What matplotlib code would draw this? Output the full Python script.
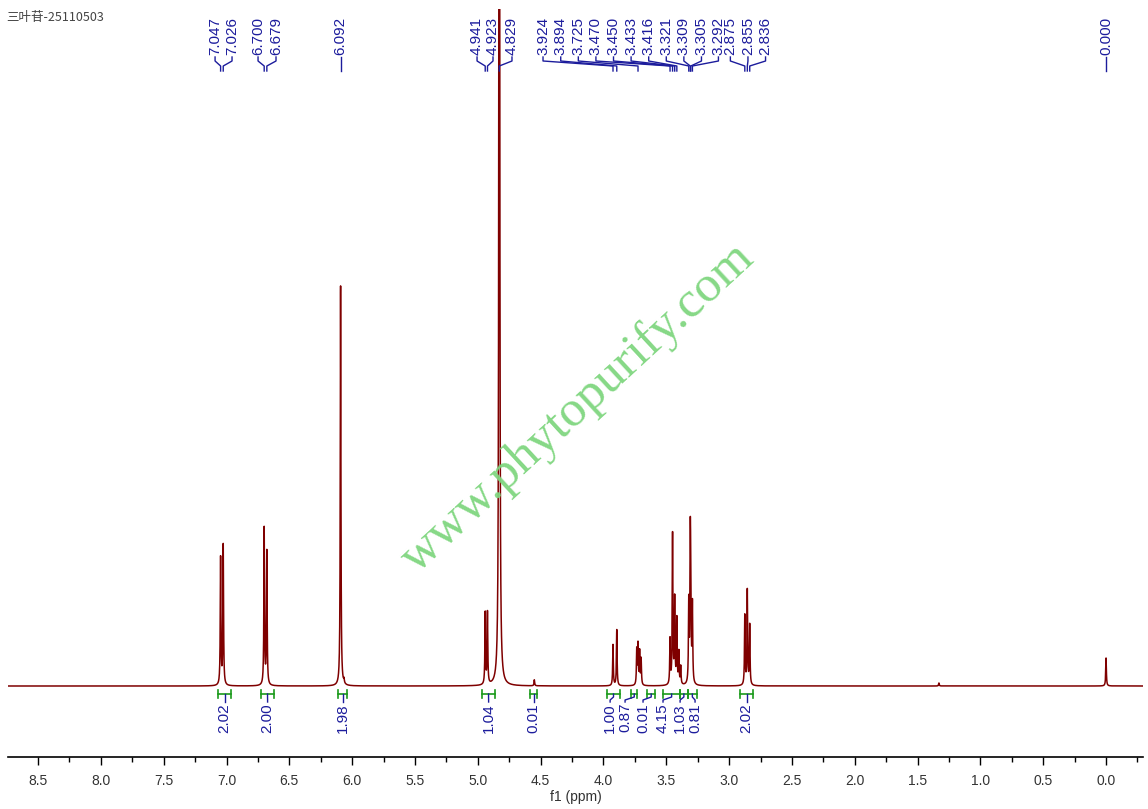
import numpy as np
import matplotlib
matplotlib.use('Agg')
import matplotlib.pyplot as plt
from matplotlib.ticker import MultipleLocator, FormatStrFormatter

# sample name shown top-left
title = '三叶苷-25110503'

# peaks (ppm, height in arbitrary units)
peak_ppm = [7.047, 7.026, 6.700, 6.679, 6.092, 6.065, 4.941, 4.923, 4.829, 4.550,
            3.924, 3.894, 3.735, 3.725, 3.712, 3.700,
            3.470, 3.450, 3.433, 3.416, 3.400, 3.385,
            3.321, 3.309, 3.305, 3.292, 2.875, 2.855, 2.836, 1.330, 0.000]
peak_height = [128, 140, 157, 134, 400, 4, 72, 72, 1800, 6,
               41, 56, 35, 40, 33, 26,
               45, 150, 85, 65, 32, 18,
               80, 128, 90, 78, 70, 95, 60, 3, 28]
peak_width = [0.003] * len(peak_ppm)
peak_width[8] = 0.003  # water line

# labelled shifts (top of chart)
label_ppm = [7.047, 7.026, 6.700, 6.679, 6.092, 4.941, 4.923, 4.829,
             3.924, 3.894, 3.725, 3.470, 3.450, 3.433, 3.416, 3.321,
             3.309, 3.305, 3.292, 2.875, 2.855, 2.836, 0.000]
# where the label text sits (spread out so they don't collide)
label_text_ppm = [7.091, 6.956, 6.749, 6.606, 6.092, 5.006, 4.879, 4.728,
                  4.481, 4.340, 4.200, 4.060, 3.920, 3.780, 3.640, 3.500,
                  3.360, 3.220, 3.085, 2.990, 2.850, 2.710, 0.000]

# integrals: range start, range end, value
int_start = [7.067, 6.725, 6.112, 4.966, 4.584, 3.970, 3.780, 3.650, 3.525, 3.390, 3.330, 2.910]
int_end = [6.963, 6.622, 6.040, 4.863, 4.528, 3.870, 3.730, 3.590, 3.390, 3.330, 3.255, 2.810]
int_value = ['2.02', '2.00', '1.98', '1.04', '0.01', '1.00', '0.87', '0.01', '4.15', '1.03', '0.81', '2.02']
int_text_ppm = [7.015, 6.673, 6.076, 4.914, 4.556, 3.947, 3.828, 3.685, 3.526, 3.390, 3.271, 2.860]

red = '#7f0000'
blue = '#1c1c9c'
green = '#1a9a1a'
lab_font = 'Liberation Sans'

# build the spectrum from the peak list
x = np.arange(-0.3, 8.75, 0.0004)
y = np.zeros_like(x)
for p, h, w in zip(peak_ppm, peak_height, peak_width):
    y += h / (1 + ((x - p) / w) ** 2)

fig = plt.figure(figsize=(11.48, 8.09), dpi=100)
ax = fig.add_axes([8 / 1148, 1 - 757 / 809, 1135 / 1148, 748 / 809])
ax.plot(x, y, color=red, lw=1.1)
ax.set_xlim(8.739, -0.294)
ax.set_ylim(-71, 677)

# axes styling
for s in ['left', 'right', 'top']:
    ax.spines[s].set_visible(False)
ax.spines['bottom'].set_linewidth(1.2)
ax.set_yticks([])
ax.xaxis.set_major_locator(MultipleLocator(0.5))
ax.xaxis.set_minor_locator(MultipleLocator(0.25))
ax.xaxis.set_major_formatter(FormatStrFormatter('%.1f'))
ax.tick_params(axis='x', which='major', length=6, width=1, pad=6, labelsize=10, labelcolor='#333333')
ax.tick_params(axis='x', which='minor', length=3.5, width=1)
for t in ax.get_xticklabels():
    t.set_family(lab_font)
ax.set_xlabel('f1 (ppm)', fontsize=10, family=lab_font, color='#333333', labelpad=2)

# peak labels with leader lines
for p, tp in zip(label_ppm, label_text_ppm):
    ax.text(tp, 631, f'{p:.3f}', rotation=90, ha='center', va='bottom',
            fontsize=11, family=lab_font, color=blue, clip_on=False)
    ax.plot([tp, tp, p, p], [629, 625, 620, 615], color=blue, lw=1, clip_on=False)

# integral brackets and values
for a, b, v, tp in zip(int_start, int_end, int_value, int_text_ppm):
    c = (a + b) / 2
    ax.plot([a, b], [-8, -8], color=green, lw=1.2, clip_on=False)
    ax.plot([a, a], [-4, -12], color=green, lw=1.2, clip_on=False)
    ax.plot([b, b], [-4, -12], color=green, lw=1.2, clip_on=False)
    ax.plot([c, c, tp, tp], [-8, -11, -14, -16], color=blue, lw=1, clip_on=False)
    ax.text(tp, -17, v, rotation=90, ha='center', va='top',
            fontsize=11, family=lab_font, color=blue, clip_on=False)

# title and watermark
fig.text(6 / 1148, 1 - 17 / 809, title, fontsize=9, va='center', color='#444444',
         family=['Noto Sans CJK SC', 'DejaVu Sans'])
fig.text(578 / 1148, 1 - 408 / 809, 'www.phytopurify.com', rotation=42.7,
         rotation_mode='anchor', ha='center', va='center', fontsize=37,
         family='Liberation Serif', color='#7fd67f', alpha=0.95)

fig.savefig('out.png', dpi=100)
